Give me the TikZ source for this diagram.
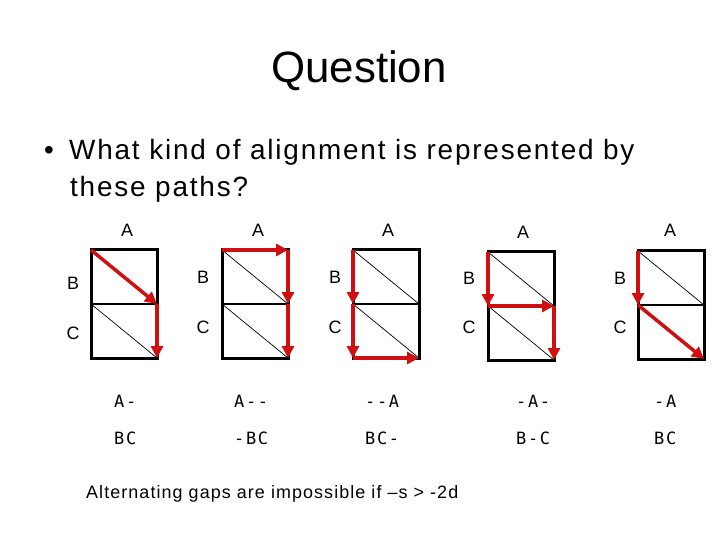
\documentclass[tikz,border=0pt]{standalone}
\usepackage{fontspec}
\setmainfont{Liberation Sans}
\newfontfamily\seqfont[LetterSpace=10]{DejaVu Sans Mono}
\newfontfamily\bodyfont[LetterSpace=6.5]{Liberation Sans}
\newfontfamily\notefont[LetterSpace=6]{Liberation Sans}
\usetikzlibrary{arrows.meta}
\definecolor{pathred}{RGB}{208,16,16}
\tikzset{
  gridbox/.style={line width=3bp, black},
  midline/.style={line width=2bp, black},
  diagline/.style={line width=0.7bp, black},
  redpath/.style={line width=3.5bp, pathred, -{Triangle[length=12bp,width=12bp]}},
  lbl/.style={font=\fontsize{18}{20}\selectfont, inner sep=0pt},
  seq/.style={font=\seqfont\fontsize{17}{19}\selectfont, anchor=west, inner sep=0pt},
}
\newcommand\mygrid[3]{%
  \coordinate (#1tl) at (#2,#3);
  \coordinate (#1tr) at (#2+66,#3);
  \coordinate (#1ml) at (#2,#3+54);
  \coordinate (#1mr) at (#2+66,#3+54);
  \coordinate (#1bl) at (#2,#3+108);
  \coordinate (#1br) at (#2+66,#3+108);
  \draw[gridbox] (#1tl) rectangle (#1br);
  \draw[midline] (#1ml) -- (#1mr);
  \draw[diagline] (#1tl) -- (#1mr);
  \draw[diagline] (#1ml) -- (#1br);
}
\begin{document}
\begin{tikzpicture}[x=1bp,y=-1bp]
\useasboundingbox (0,0) rectangle (720,540);

\node[anchor=base, inner sep=0pt, font=\fontsize{44}{50}\selectfont] (title) at (359,83) {Question};
\node[anchor=base west, inner sep=0pt, font=\fontsize{28}{32}\selectfont] (bullet) at (44,160) {•};
\node[anchor=base west, inner sep=0pt, font=\bodyfont\fontsize{28}{32}\selectfont] (line1) at (69,160) {What kind of alignment is represented by};
\node[anchor=base west, inner sep=0pt, font=\bodyfont\fontsize{28}{32}\selectfont] (line2) at (70,197) {these paths?};

% grids
\mygrid{g1}{91}{250}
\mygrid{g2}{222}{250}
\mygrid{g3}{353}{250}
\mygrid{g4}{488}{252}
\mygrid{g5}{638}{251}

% labels
\node[lbl] (g1A) at (127,230) {A};
\node[lbl] (g1B) at (73,283) {B};
\node[lbl] (g1C) at (73,333) {C};
\node[lbl] (g2A) at (258,230) {A};
\node[lbl] (g2B) at (203,277) {B};
\node[lbl] (g2C) at (203,327) {C};
\node[lbl] (g3A) at (388,230) {A};
\node[lbl] (g3B) at (335,277) {B};
\node[lbl] (g3C) at (335,327) {C};
\node[lbl] (g4A) at (523,232) {A};
\node[lbl] (g4B) at (469,278) {B};
\node[lbl] (g4C) at (469,327) {C};
\node[lbl] (g5A) at (670,230) {A};
\node[lbl] (g5B) at (620,278) {B};
\node[lbl] (g5C) at (620,327) {C};

% red paths
\draw[redpath] (g1tl) -- (g1mr);
\draw[redpath] (g1mr) -- (g1br);

\draw[redpath] (g2tl) -- (g2tr);
\draw[redpath] (g2tr) -- (g2mr);
\draw[redpath] (g2mr) -- (g2br);

\draw[redpath] (g3tl) -- (g3ml);
\draw[redpath] (g3ml) -- (g3bl);
\draw[redpath] (g3bl) -- (g3br);

\draw[redpath] (g4tl) -- (g4ml);
\draw[redpath] (g4ml) -- (g4mr);
\draw[redpath] (g4mr) -- (g4br);

\draw[redpath] (g5tl) -- (g5ml);
\draw[redpath] (g5ml) -- (g5br);

% alignments
\node[seq] (s1a) at (114,401) {A-};
\node[seq] (s1b) at (114,438) {BC};
\node[seq] (s2a) at (234,401) {A--};
\node[seq] (s2b) at (234,438) {-BC};
\node[seq] (s3a) at (365,401) {--A};
\node[seq] (s3b) at (365,438) {BC-};
\node[seq] (s4a) at (516,401) {-A-};
\node[seq] (s4b) at (516,438) {B-C};
\node[seq] (s5a) at (654,401) {-A};
\node[seq] (s5b) at (654,438) {BC};

\node[anchor=base west, inner sep=0pt, font=\notefont\fontsize{18}{20}\selectfont] (note) at (86,498) {Alternating gaps are impossible if –s > -2d};
\end{tikzpicture}
\end{document}
